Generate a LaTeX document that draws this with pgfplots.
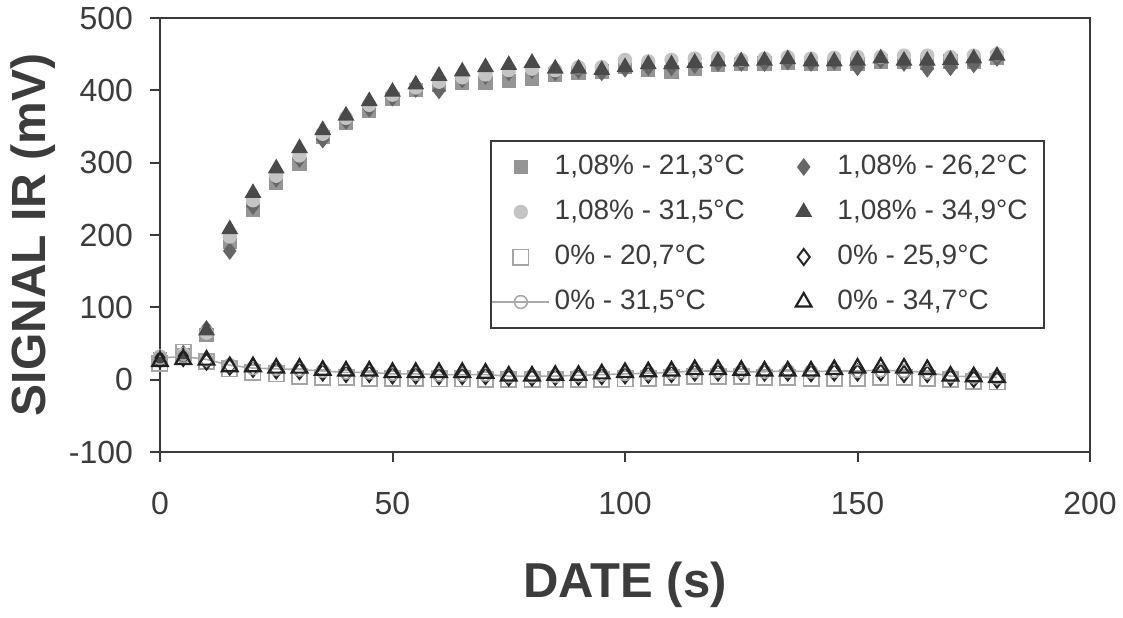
\documentclass[border=0pt]{standalone}
\usepackage{fontspec}
\setmainfont{Liberation Sans}
\usepackage{pgfplots}
\usepackage{pgfplotstable}
\pgfplotsset{compat=1.18}
\definecolor{txt}{HTML}{3C3C3C}
\definecolor{axgray}{HTML}{3A3A3A}
\definecolor{cA}{HTML}{959595}
\definecolor{cB}{HTML}{666666}
\definecolor{cC}{HTML}{C4C4C4}
\definecolor{cD}{HTML}{4A4A4A}
\definecolor{cE}{HTML}{A5A5A5}
\definecolor{cF}{HTML}{262626}
\definecolor{cG}{HTML}{AAAAAA}
\definecolor{cH}{HTML}{202020}
\pgfplotsset{widelegend/.style={legend image code/.code={%
  \draw[mark repeat=2,mark phase=2,#1] plot coordinates {(0cm,0cm) (0.3cm,0cm) (0.6cm,0cm)};
  \draw[#1,mark=none,overlay] (-0.2cm,0cm) -- (0cm,0cm) (0.6cm,0cm) -- (0.8cm,0cm);}}}

\pgfplotstableread{
x sq di ci tr
0 28 30 32 28
5 34 36 35 32
10 62 70 65 68
15 190 178 198 208
20 235 240 248 258
25 272 278 282 292
30 298 305 310 320
35 335 332 340 345
40 355 358 362 365
45 372 375 380 385
50 388 390 394 398
55 400 402 404 408
60 408 400 412 420
65 410 415 418 426
70 410 420 422 432
75 413 425 428 435
80 416 428 430 438
85 422 425 428 430
90 424 428 432 430
95 426 425 432 428
100 432 430 442 432
105 428 432 440 436
110 425 432 442 436
115 430 435 444 438
120 435 438 445 440
125 436 438 442 440
130 437 438 444 441
135 438 440 446 443
140 437 438 444 440
145 436 440 445 440
150 436 432 446 441
155 440 442 446 444
160 440 438 448 441
165 438 430 448 441
170 440 432 446 442
175 440 436 448 444
180 445 445 450 448
}\high

\pgfplotstableread{
x sq di ci tr
0 22 28 30 25
5 38 30 32 28
10 25 25 28 27
15 15 18 20 18
20 10 15 16 18
25 8 13 15 16
30 5 12 14 16
35 3 10 12 13
40 3 8 10 12
45 2 8 10 12
50 2 6 8 10
55 2 6 8 10
60 1 5 7 10
65 1 5 7 10
70 0 5 7 9
75 0 3 5 5
80 0 3 5 5
85 0 4 5 6
90 0 4 6 6
95 0 5 7 8
100 1 6 8 10
105 2 7 9 11
110 3 8 10 12
115 4 10 12 14
120 5 10 12 14
125 4 10 11 13
130 3 10 11 12
135 3 10 12 12
140 2 9 11 12
145 2 10 12 14
150 2 10 12 16
155 3 10 13 17
160 3 8 12 16
165 2 8 10 14
170 0 3 5 5
175 -2 1 4 4
180 -3 0 3 3
}\low

\begin{document}
\begin{tikzpicture}
\useasboundingbox (-80pt,-82.5pt) rectangle (481.5pt,226pt);
\begin{axis}[
  at={(0,0)}, anchor=south west,
  width=465pt, height=217pt, scale only axis,
  xmin=0, xmax=200, ymin=-100, ymax=500,
  xtick={0,50,...,200}, ytick={-100,0,...,500},
  tick pos=left,
  tick align=outside, major tick length=5pt,
  axis line style={draw=axgray, line width=1pt},
  every tick/.style={draw=axgray, line width=1pt},
  ticklabel style={font=\fontsize{16}{16}\selectfont, text=txt},
  xticklabel style={yshift=-11.5pt},
  yticklabel style={xshift=-5pt},
  /pgf/number format/assume math mode=true,
  xlabel={DATE (s)}, ylabel={SIGNAL IR (mV)},
  every axis x label/.style={at={(axis description cs:0.5,-0.306)}, anchor=center,
     font=\fontsize{24.5}{25}\selectfont\bfseries, text=txt},
  every axis y label/.style={at={(axis description cs:-0.1366,0.5)}, rotate=90, anchor=center,
     font=\fontsize{24}{25}\selectfont\bfseries, text=txt},
  legend columns=2,
  legend cell align=left,
  legend style={at={(axis description cs:0.3548,0.7189)}, anchor=north west,
     draw=axgray, line width=1pt, font=\fontsize{14}{14}\selectfont, text=txt,
     inner xsep=6pt, inner ysep=4.5pt,
     nodes={text height=10pt, text depth=3pt},
     row sep=5.5pt,
     /tikz/column 1/.append style={column sep=6pt},
     /tikz/column 2/.append style={column sep=23.5pt},
     /tikz/column 3/.append style={column sep=11pt}},
]
\addplot[only marks, mark=square*, mark size=3.25pt, line width=0.6pt, draw=cA, fill=cA] table[x=x,y=sq] {\high};
\addlegendentry{1,08\% - 21,3°C}
\addplot[only marks, mark=diamond*, mark size=4pt, line width=0.6pt, draw=cB, fill=cB] table[x=x,y=di] {\high};
\addlegendentry{1,08\% - 26,2°C}
\addplot[only marks, mark=*, mark size=3.3pt, line width=0.6pt, draw=cC, fill=cC] table[x=x,y=ci] {\high};
\addlegendentry{1,08\% - 31,5°C}
\addplot[only marks, mark=triangle*, mark size=4.3pt, line width=0.6pt, draw=cD, fill=cD] table[x=x,y=tr] {\high};
\addlegendentry{1,08\% - 34,9°C}
\addplot[only marks, mark=square, mark size=3.8pt, line width=0.9pt, draw=cE] table[x=x,y=sq] {\low};
\addlegendentry{0\% - 20,7°C}
\addplot[only marks, mark=diamond, mark size=4pt, line width=1pt, draw=cF] table[x=x,y=di] {\low};
\addlegendentry{0\% - 25,9°C}
\addplot[mark=o, mark size=3.2pt, line width=0.8pt, draw=cG, widelegend] table[x=x,y=ci] {\low};
\addlegendentry{0\% - 31,5°C}
\addplot[only marks, mark=triangle, mark size=4.5pt, line width=1.1pt, draw=cH] table[x=x,y=tr] {\low};
\addlegendentry{0\% - 34,7°C}
\end{axis}
\end{tikzpicture}
\end{document}
